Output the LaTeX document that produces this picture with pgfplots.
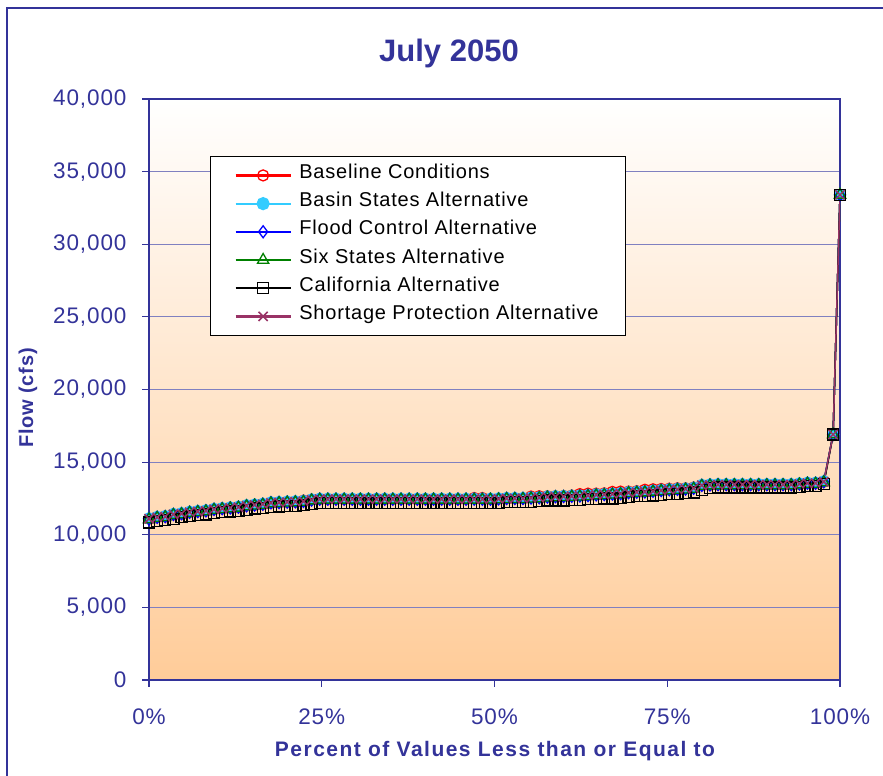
\documentclass[border=0pt]{standalone}
\usepackage{pgfplots}
\pgfplotsset{compat=1.18}
\usepackage{pgfplotstable}
\usepackage{fontspec}
\setmainfont{Liberation Sans}
\newfontfamily\lsfont[LetterSpace=4]{Liberation Sans}
\newfontfamily\lswide[LetterSpace=7]{Liberation Sans}
\definecolor{axc}{RGB}{51,51,153}
\definecolor{gridc}{RGB}{128,128,192}
\definecolor{peach}{RGB}{255,204,153}
\definecolor{lblue}{RGB}{51,204,255}
\definecolor{sgreen}{RGB}{0,128,0}
\definecolor{plum}{RGB}{153,51,102}

\pgfplotstableread{
x base basin flood six calif short
0.00 11100 11130 11100 11050 10850 11100
1.18 11200 11230 11200 11150 10950 11200
2.35 11250 11280 11250 11200 11000 11250
3.53 11400 11430 11400 11350 11100 11400
4.71 11450 11480 11450 11400 11200 11450
5.88 11550 11580 11550 11500 11300 11550
7.06 11600 11630 11600 11550 11350 11600
8.24 11650 11680 11650 11600 11400 11650
9.41 11750 11780 11750 11700 11500 11750
10.59 11800 11830 11800 11750 11550 11800
11.76 11850 11880 11850 11800 11600 11850
12.94 11900 11930 11900 11850 11650 11900
14.12 12000 12030 12000 11950 11700 12000
15.29 12050 12080 12050 12000 11800 12050
16.47 12100 12130 12100 12050 11850 12100
17.65 12200 12230 12200 12150 11900 12200
18.82 12220 12250 12220 12170 11950 12220
20.00 12250 12280 12250 12200 12000 12250
21.18 12270 12300 12270 12220 12000 12270
22.35 12350 12330 12300 12250 12050 12300
23.53 12420 12430 12400 12350 12100 12400
24.71 12450 12480 12450 12400 12200 12450
25.88 12450 12480 12450 12400 12200 12450
27.06 12450 12480 12450 12400 12200 12450
28.24 12450 12480 12450 12400 12200 12450
29.41 12450 12480 12450 12400 12200 12450
30.59 12450 12480 12450 12400 12200 12450
31.76 12450 12480 12450 12400 12200 12450
32.94 12450 12480 12450 12400 12200 12450
34.12 12450 12480 12450 12400 12200 12450
35.29 12450 12480 12450 12400 12200 12450
36.47 12450 12480 12450 12400 12200 12450
37.65 12450 12480 12450 12400 12200 12450
38.82 12450 12480 12450 12400 12200 12450
40.00 12450 12480 12450 12400 12200 12450
41.18 12450 12480 12450 12400 12200 12450
42.35 12450 12480 12450 12400 12200 12450
43.53 12450 12480 12450 12400 12200 12450
44.71 12450 12480 12450 12400 12200 12450
45.88 12450 12480 12450 12400 12200 12450
47.06 12530 12480 12450 12400 12200 12450
48.24 12530 12480 12450 12400 12200 12450
49.41 12450 12480 12450 12400 12200 12450
50.59 12470 12500 12470 12420 12200 12470
51.76 12500 12530 12500 12450 12250 12500
52.94 12500 12530 12500 12450 12250 12500
54.12 12500 12530 12500 12450 12250 12500
55.29 12630 12560 12530 12480 12250 12530
56.47 12650 12580 12550 12500 12300 12550
57.65 12650 12630 12600 12550 12350 12600
58.82 12650 12650 12620 12570 12350 12620
60.00 12670 12660 12630 12580 12350 12630
61.18 12700 12680 12650 12600 12400 12650
62.35 12800 12700 12670 12620 12400 12670
63.53 12830 12730 12700 12650 12450 12700
64.71 12830 12780 12750 12700 12450 12750
65.88 12850 12800 12770 12720 12500 12770
67.06 12950 12830 12800 12750 12500 12800
68.24 12970 12860 12830 12780 12550 12830
69.41 12970 12930 12900 12850 12600 12900
70.59 13000 12960 12930 12880 12650 12930
71.76 13100 12980 12950 12900 12650 12950
72.94 13130 13030 13000 12950 12700 13000
74.12 13150 13080 13050 13000 12750 13050
75.29 13170 13130 13100 13050 12800 13100
76.47 13200 13160 13130 13080 12800 13130
77.65 13200 13180 13150 13100 12850 13150
78.82 13250 13230 13200 13150 12900 13200
80.00 13400 13430 13400 13350 13100 13400
81.18 13430 13460 13430 13380 13200 13430
82.35 13450 13480 13450 13400 13250 13450
83.53 13450 13480 13450 13400 13250 13450
84.71 13450 13480 13450 13400 13250 13450
85.88 13450 13480 13450 13400 13250 13450
87.06 13450 13480 13450 13400 13250 13450
88.24 13450 13480 13450 13400 13250 13450
89.41 13450 13480 13450 13400 13250 13450
90.59 13450 13480 13450 13400 13250 13450
91.76 13450 13480 13450 13400 13250 13450
92.94 13450 13480 13450 13400 13250 13450
94.12 13500 13530 13500 13450 13300 13500
95.29 13550 13580 13550 13500 13350 13550
96.47 13550 13580 13550 13500 13350 13550
97.65 13650 13680 13650 13600 13500 13650
99.00 16900 16900 16900 16900 16900 16900
100.00 33400 33400 33400 33400 33400 33400
}\flowdata

\begin{document}
\begin{tikzpicture}[x=1bp,y=1bp]
\useasboundingbox (0,0) rectangle (883,776);
\begin{scope}
\clip (0,0) rectangle (883,776);
\draw[axc, line width=2.5bp] (7,-20) -- (7,768) -- (900,768);
\end{scope}
\begin{axis}[
  at={(149bp,96bp)}, anchor=south west,
  scale only axis, width=691bp, height=581bp,
  xmin=0, xmax=100, ymin=0, ymax=40000,
  xtick={0,25,50,75,100},
  xticklabels={0\%,25\%,50\%,75\%,100\%},
  ytick={0,5000,10000,15000,20000,25000,30000,35000,40000},
  scaled y ticks=false,
  /pgf/number format/fixed,
  /pgf/number format/1000 sep={,},
  /pgf/number format/assume math mode=true,
  ymajorgrids,
  grid style={color=gridc, line width=1.2bp},
  axis line style={color=axc, line width=1.6bp},
  tick pos=left, tick align=outside,
  major tick length=7bp,
  tick style={color=axc, line width=1.2bp},
  ticklabel style={font=\lsfont\fontsize{22.5bp}{27bp}\selectfont, text=axc},
  xticklabel style={yshift=-18bp},
  yticklabel style={xshift=-12bp},
  axis background/.style={shade, top color=white, bottom color=peach},
  legend cell align=left,
  legend image code/.code={\draw[mark repeat=2,mark phase=2,#1,line width=2.2bp] plot coordinates {(0bp,0bp) (27.5bp,0bp) (55bp,0bp)};\path (60bp,0bp);},
  legend style={at={(0.0883,0.902)}, anchor=north west, draw=black, line width=1bp, fill=white,
    font=\lsfont\fontsize{20bp}{24bp}\selectfont, text=black,
    inner xsep=24bp, inner ysep=9bp, row sep=8.2bp,
    nodes={inner xsep=3bp, inner ysep=0bp, text height=13bp, text depth=7bp}},
]
\addplot[red, line width=1.5bp, mark=o, mark size=5.5bp, mark options={solid, line width=1.3bp}] table[x=x,y=base]{\flowdata};
\addlegendentry{Baseline Conditions}
\addplot[lblue, line width=1.5bp, mark=*, mark size=5.5bp, mark options={solid, fill=lblue}] table[x=x,y=basin]{\flowdata};
\addlegendentry{Basin States Alternative}
\addplot[blue, line width=1.5bp, mark=diamond, mark size=6bp, mark options={solid, line width=1.3bp}] table[x=x,y=flood]{\flowdata};
\addlegendentry{Flood Control Alternative}
\addplot[sgreen, line width=1.5bp, mark=triangle, mark size=6.5bp, mark options={solid, line width=1.3bp}] table[x=x,y=six]{\flowdata};
\addlegendentry{Six States Alternative}
\addplot[black, line width=1.5bp, mark=square, mark size=5.5bp, mark options={solid, line width=1.3bp}] table[x=x,y=calif]{\flowdata};
\addlegendentry{California Alternative}
\addplot[plum, line width=1.5bp, mark=x, mark size=6.5bp, mark options={solid, line width=1.5bp}] table[x=x,y=short]{\flowdata};
\addlegendentry{Shortage Protection Alternative}
\end{axis}
\node[text=axc, font=\fontsize{31bp}{35bp}\selectfont\bfseries] at (449,723) {July 2050};
\node[text=axc, font=\lswide\fontsize{21bp}{25bp}\selectfont\bfseries] at (495,25) {Percent of Values Less than or Equal to};
\node[text=axc, font=\lsfont\fontsize{20bp}{24bp}\selectfont\bfseries, rotate=90] at (28,378) {Flow (cfs)};
\end{tikzpicture}
\end{document}
